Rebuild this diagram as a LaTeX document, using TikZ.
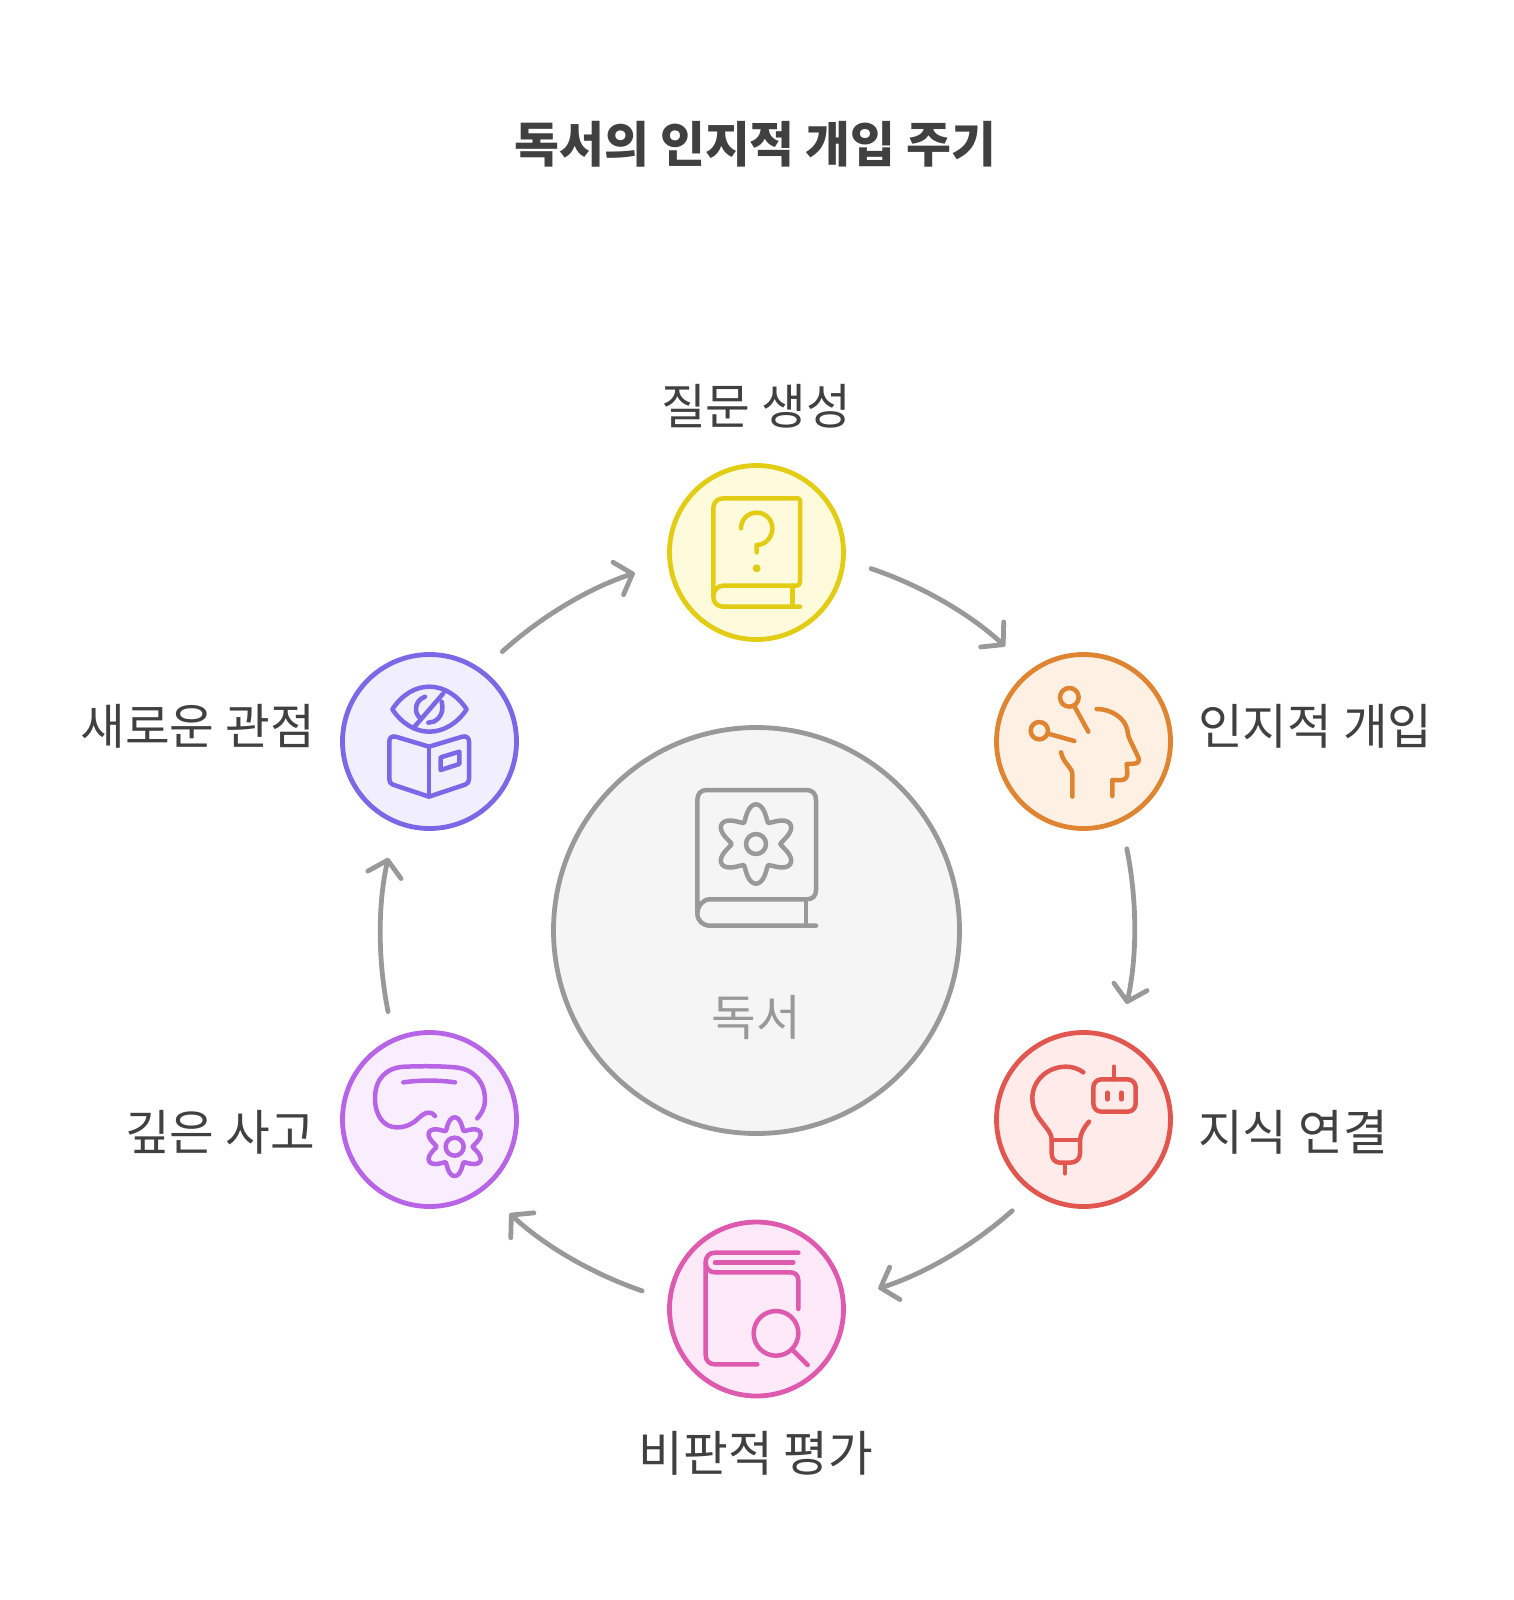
\documentclass[tikz,border=0pt]{standalone}
\usepackage{fontspec}
\usetikzlibrary{arrows.meta}
\setmainfont{Noto Sans CJK KR}
\definecolor{inkc}{HTML}{404040}
\definecolor{greyc}{HTML}{999999}
\definecolor{greyf}{HTML}{F5F5F5}
\definecolor{yellowc}{HTML}{E3CC14}
\definecolor{yellowf}{HTML}{FEFADC}
\definecolor{orangec}{HTML}{DF8431}
\definecolor{orangef}{HTML}{FEF1E4}
\definecolor{redc}{HTML}{E25650}
\definecolor{redf}{HTML}{FEEBEA}
\definecolor{pinkc}{HTML}{DD5AAE}
\definecolor{pinkf}{HTML}{FDE9F7}
\definecolor{purplec}{HTML}{B765E6}
\definecolor{purplef}{HTML}{F8EEFE}
\definecolor{violetc}{HTML}{7C67E6}
\definecolor{violetf}{HTML}{F1EEFE}
\tikzset{
  station/.style={circle,draw=#1,line width=4.8pt,minimum size=174pt,outer sep=28.7pt},
  steptext/.style={text=inkc,font=\fontsize{48.6}{58}\selectfont},
  icon/.style={draw=#1,line width=4.5pt,line cap=round,line join=round},
  flow/.style={draw=greyc,line width=4.8pt,line cap=round,shorten >=7.8pt,
    -{Straight Barb[length=15pt,width=34pt,round]}}
}

\begin{document}
\begin{tikzpicture}[x=1pt,y=-1pt,declare function={gearlobe(\t)=0.35*(1.0001-cos(6*\t))+0.3*sqrt((1.0001-cos(6*\t))/2);}]
\tikzstyle{every node}+=[inner sep=0pt]
\useasboundingbox (0,0) rectangle (1513,1600);
\node (title) at (755.5,144) [text=inkc,font=\fontsize{48.8}{58}\selectfont\bfseries] {독서의 인지적 개입 주기};
\node (hub) at (756.5,930.5) [circle,draw=greyc,fill=greyf,line width=4.8pt,minimum size=406pt] {};
\node (qnode) at (756.5,552.5) [station=yellowc,fill=yellowf] {};
\node (knode) at (1083.5,741.5) [station=orangec,fill=orangef] {};
\node (lnode) at (1083.5,1119.5) [station=redc,fill=redf] {};
\node (pnode) at (756.5,1309) [station=pinkc,fill=pinkf] {};
\node (dnode) at (429.5,1119.5) [station=purplec,fill=purplef] {};
\node (vnode) at (429.5,741.5) [station=violetc,fill=violetf] {};
\node (hubtext) at (756,1017) [text=greyc,font=\fontsize{48.6}{58}\selectfont] {독서};
\node (qtext) at (756,406) [steptext] {질문 생성};
\node (ktext) at (1198,726) [steptext,anchor=west] {인지적 개입};
\node (ltext) at (1198,1132) [steptext,anchor=west] {지식 연결};
\node (ptext) at (756,1453) [steptext] {비판적 평가};
\node (dtext) at (315,1132) [steptext,anchor=east] {깊은 사고};
\node (vtext) at (315,726) [steptext,anchor=east] {새로운 관점};
% arrows round the ring
\draw [flow] (qnode.-8.8) to[bend left=12,looseness=0.86] (knode.129.4);
\draw [flow] (knode.-68.8) to[bend left=12,looseness=0.86] (lnode.69.4);
\draw [flow] (lnode.-128.8) to[bend left=12,looseness=0.86] (pnode.9.4);
\draw [flow] (pnode.171.2) to[bend left=12,looseness=0.86] (dnode.-50.6);
\draw [flow] (dnode.111.2) to[bend left=12,looseness=0.86] (vnode.-110.6);
\draw [flow] (vnode.51.2) to[bend left=12,looseness=0.86] (qnode.189.4);
% centre book
\begin{scope}[shift={(660,770)},scale=1/3]
\draw [icon=greyc] (112,430) -- (112,90) .. controls (112,72) and (122,60) .. (140,60) -- (440,60) .. controls (458,60) and (468,72) .. (468,90) -- (468,360) .. controls (468,378) and (458,388) .. (440,388) -- (150,388) .. controls (128,388) and (112,408) .. (112,430) .. controls (112,452) and (128,467) .. (150,467) -- (468,467);
\draw [icon=greyc] (438,388) -- (438,467);
\draw [icon=greyc] (288,222) circle (30);
\draw [icon=greyc] plot[domain=0:360,samples=121,smooth] ({288+(73+46*gearlobe(\x))*cos(\x)},{222+(73+46*gearlobe(\x))*sin(\x)});
\end{scope}
% question book
\begin{scope}[shift={(640,440)},scale=1/3]
\draw [icon=yellowc] (220,470) -- (220,205) .. controls (220,187) and (232,175) .. (250,175) -- (475,175) -- (480,180) -- (480,425) .. controls (480,432) and (476,437) .. (470,437) -- (250,437) .. controls (232,437) and (220,452) .. (220,470) .. controls (220,488) and (232,500) .. (250,500) -- (480,500);
\draw [icon=yellowc] (458,437) -- (458,500);
\draw [icon=yellowc] (303,265) .. controls (303,238) and (324,218) .. (350,218) .. controls (376,218) and (397,238) .. (397,265) .. controls (397,292) and (376,315) .. (350,315) -- (350,337);
\fill [yellowc] (350,385) circle (12);
\end{scope}
% head with pins
\begin{scope}[shift={(970,640)},scale=1/3]
\draw [icon=orangec] (298,172) circle (28);
\draw [icon=orangec] (312,197) -- (355,275);
\draw [icon=orangec] (208,272) circle (26);
\draw [icon=orangec] (234,281) -- (313,303);
\draw [icon=orangec] (380,207) .. controls (425,207) and (465,235) .. (472,270) .. controls (474,285) and (476,292) .. (480,300) -- (505,352) .. controls (510,364) and (503,371) .. (492,371) -- (470,372) -- (472,400) .. controls (472,412) and (465,420) .. (455,420) -- (427,420) -- (427,468);
\draw [icon=orangec] (273,337) .. controls (277,355) and (285,365) .. (295,378) .. controls (303,388) and (307,392) .. (307,405) -- (307,470);
\end{scope}
% bulb and robot
\begin{scope}[shift={(970,1020)},scale=1/3]
\draw [icon=redc] (340,157) .. controls (325,146) and (308,140) .. (288,140) .. controls (232,140) and (187,182) .. (187,235) .. controls (187,275) and (210,298) .. (228,322) .. controls (238,335) and (245,345) .. (245,360) -- (245,400) .. controls (245,417) and (255,428) .. (270,428) -- (300,428) .. controls (318,428) and (330,417) .. (330,400) -- (330,360) .. controls (332,340) and (342,322) .. (357,305);
\draw [icon=redc] (245,360) -- (330,360);
\draw [icon=redc] (285,430) -- (285,460);
\draw [icon=redc,rounded corners=8pt] (370,178) rectangle (497,275);
\draw [icon=redc] (432,140) -- (432,178);
\draw [icon=redc] (412,218) -- (412,238);
\draw [icon=redc] (454,218) -- (454,238);
\end{scope}
% book with lens
\begin{scope}[shift={(650,1210)},scale=1/3]
\draw [icon=pinkc] (445,128) -- (195,128) .. controls (177,128) and (167,140) .. (167,157) -- (167,435) .. controls (167,452) and (178,463) .. (195,463) -- (322,463);
\draw [icon=pinkc] (195,158) -- (430,158);
\draw [icon=pinkc] (167,157) .. controls (167,175) and (178,187) .. (195,187) -- (420,187) .. controls (436,187) and (445,196) .. (445,212) -- (445,297);
\draw [icon=pinkc] (378,370) circle (67);
\draw [icon=pinkc] (428,420) -- (473,465);
\end{scope}
% goggles and gear
\begin{scope}[shift={(330,1020)},scale=1/3]
\draw [icon=purplec] (315,288) .. controls (300,268) and (280,280) .. (265,295) .. controls (248,312) and (228,322) .. (200,322) .. controls (160,322) and (135,285) .. (135,235) .. controls (135,175) and (170,142) .. (225,140) .. controls (275,138) and (330,138) .. (375,142) .. controls (430,146) and (465,185) .. (465,240) .. controls (465,262) and (455,280) .. (442,295);
\draw [icon=purplec] (220,187) .. controls (270,180) and (325,180) .. (375,187);
\draw [icon=purplec] (374,380) circle (27);
\draw [icon=purplec] plot[domain=0:360,samples=121,smooth] ({374+(54+34*gearlobe(\x))*cos(\x)},{380+(54+34*gearlobe(\x))*sin(\x)});
\end{scope}
% eye over open book
\begin{scope}[shift={(330,640)},scale=1/3]
\draw [icon=violetc] (187,208) .. controls (215,165) and (255,140) .. (298,140) .. controls (341,140) and (382,165) .. (410,208) .. controls (382,250) and (341,275) .. (298,275) .. controls (255,275) and (215,250) .. (187,208) -- cycle;
\draw [icon=violetc] (285,170) .. controls (265,178) and (258,192) .. (258,207) .. controls (258,218) and (262,228) .. (272,235);
\draw [icon=violetc] (335,185) .. controls (340,205) and (337,222) .. (325,235) .. controls (316,244) and (306,248) .. (295,248);
\draw [icon=violetc] (252,262) -- (340,160);
\draw [icon=violetc] (297,320) -- (197,290) .. controls (186,287) and (178,293) .. (178,304) -- (178,418) .. controls (178,426) and (181,431) .. (189,434) -- (297,470) -- (405,434) .. controls (413,431) and (417,426) .. (417,418) -- (417,304) .. controls (417,293) and (408,287) .. (397,290) -- cycle;
\draw [icon=violetc] (297,320) -- (297,470);
\draw [icon=violetc] (332,352) -- (388,335) -- (388,372) -- (332,390) -- cycle;
\end{scope}
\end{tikzpicture}
\end{document}
